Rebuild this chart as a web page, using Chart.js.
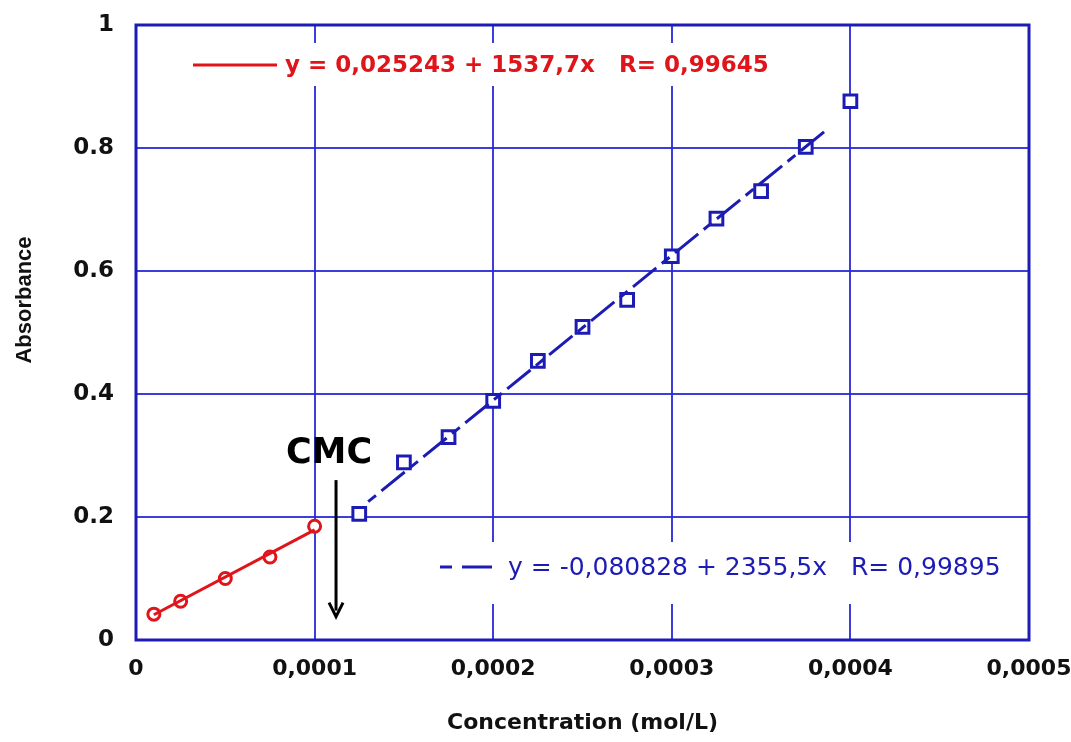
<!DOCTYPE html>
<html>
<head>
  <title>CMC Absorbance</title>
  <script src="https://cdn.jsdelivr.net/npm/chart.js"></script>
  <style>
    body { margin: 0; background: #fff; }
    #wrap { width: 1071px; height: 742px; }
  </style>
</head>
<body>
  <div id="wrap"><canvas id="cmcChart" width="1071" height="742"></canvas></div>
  <script>
    // measured points
    const redX = [0.00001, 0.000025, 0.00005, 0.000075, 0.0001];
    const redY = [0.042, 0.063, 0.100, 0.135, 0.185];
    const blueX = [0.000125, 0.00015, 0.000175, 0.0002, 0.000225, 0.00025, 0.000275, 0.0003, 0.000325, 0.00035, 0.000375, 0.0004];
    const blueY = [0.205, 0.289, 0.330, 0.389, 0.454, 0.509, 0.553, 0.624, 0.685, 0.730, 0.802, 0.876];

    // fit line ends
    const redFitX = [0.00001, 0.0001];
    const redFitY = [0.041, 0.179];
    const blueFitX = [0.00013, 0.000386];
    const blueFitY = [0.225, 0.828];

    const xTicks = ['0', '0,0001', '0,0002', '0,0003', '0,0004', '0,0005'];
    const yTicks = ['0', '0.2', '0.4', '0.6', '0.8', '1'];

    const redLabel = 'y = 0,025243 + 1537,7x   R= 0,99645';
    const blueLabel = 'y = -0,080828 + 2355,5x   R= 0,99895';
    const cmcX = [0.000112];
    const cmcArrowY = [0.26, 0.038];

    const RED = '#e0151b';
    const BLUE = '#1c1cb4';
    const GRID = 'rgba(40, 40, 215, 0.9)';

    function pts(xs, ys) {
      return xs.map((x, i) => ({ x: x, y: ys[i] }));
    }

    function noPad(s) {
      s.paddingLeft = 0;
      s.paddingRight = 0;
      s.paddingTop = 0;
      s.paddingBottom = 0;
    }

    const extras = {
      id: 'extras',
      afterDatasetsDraw(chart) {
        const ctx = chart.ctx;
        const xs = chart.scales.x;
        const ys = chart.scales.y;
        ctx.save();

        // legend 1 (red, solid)
        ctx.fillStyle = '#fff';
        ctx.fillRect(185, 43, 590, 43);
        ctx.strokeStyle = RED;
        ctx.lineWidth = 3;
        ctx.beginPath();
        ctx.moveTo(193, 65);
        ctx.lineTo(277, 65);
        ctx.stroke();
        ctx.fillStyle = RED;
        ctx.font = 'bold 23px "DejaVu Sans"';
        ctx.textBaseline = 'middle';
        ctx.textAlign = 'left';
        ctx.fillText(redLabel, 285, 66);

        // legend 2 (blue, dashed)
        ctx.fillStyle = '#fff';
        ctx.fillRect(432, 542, 578, 62);
        ctx.strokeStyle = BLUE;
        ctx.beginPath();
        ctx.moveTo(440, 567);
        ctx.lineTo(452, 567);
        ctx.moveTo(462, 567);
        ctx.lineTo(492, 567);
        ctx.stroke();
        ctx.fillStyle = BLUE;
        ctx.font = '25px "DejaVu Sans"';
        ctx.fillText(blueLabel, 508, 568);

        // CMC marker
        const ax = xs.getPixelForValue(cmcX[0]);
        const ay1 = ys.getPixelForValue(cmcArrowY[0]);
        const ay2 = ys.getPixelForValue(cmcArrowY[1]);
        ctx.fillStyle = '#000';
        ctx.font = 'bold 35px "DejaVu Sans"';
        ctx.textAlign = 'center';
        ctx.fillText('CMC', ax - 7, 454);
        ctx.strokeStyle = '#000';
        ctx.lineWidth = 3;
        ctx.beginPath();
        ctx.moveTo(ax, ay1);
        ctx.lineTo(ax, ay2 - 6);
        ctx.stroke();
        ctx.beginPath();
        ctx.moveTo(ax - 7, ay2 - 14);
        ctx.lineTo(ax, ay2);
        ctx.lineTo(ax + 7, ay2 - 14);
        ctx.stroke();

        // y axis title
        ctx.translate(25, 300);
        ctx.rotate(-Math.PI / 2);
        ctx.font = 'bold 22px "Liberation Sans"';
        ctx.fillStyle = '#111';
        ctx.fillText('Absorbance', 0, 0);
        ctx.restore();
      },
      afterDraw(chart) {
        const a = chart.chartArea;
        const ctx = chart.ctx;
        ctx.save();
        ctx.strokeStyle = BLUE;
        ctx.lineWidth = 3;
        ctx.strokeRect(a.left, a.top, a.right - a.left, a.bottom - a.top);
        ctx.restore();
      }
    };

    const ctx = document.getElementById('cmcChart').getContext('2d');
    new Chart(ctx, {
      type: 'scatter',
      data: {
        datasets: [
          {
            data: pts(redFitX, redFitY),
            showLine: true,
            borderColor: RED,
            borderWidth: 3,
            pointRadius: 0
          },
          {
            data: pts(blueFitX, blueFitY),
            showLine: true,
            borderColor: BLUE,
            borderWidth: 3,
            borderDash: [10, 7, 30, 7],
            pointRadius: 0
          },
          {
            data: pts(redX, redY),
            pointStyle: 'circle',
            pointRadius: 6,
            pointBorderWidth: 3,
            pointBorderColor: RED,
            pointBackgroundColor: '#fff'
          },
          {
            data: pts(blueX, blueY),
            pointStyle: 'rect',
            pointRadius: 9,
            pointBorderWidth: 3,
            pointBorderColor: BLUE,
            pointBackgroundColor: '#fff'
          }
        ]
      },
      options: {
        responsive: false,
        animation: false,
        layout: { padding: { top: 25, right: 42 } },
        plugins: {
          legend: { display: false },
          tooltip: { enabled: false }
        },
        scales: {
          x: {
            type: 'linear',
            min: 0,
            max: 0.0005,
            afterFit: s => { s.height = 102; noPad(s); },
            afterBuildTicks: s => {
              s.ticks = xTicks.map((t, i) => ({ value: i * 0.0001 }));
            },
            grid: { color: GRID, lineWidth: 2, drawTicks: false },
            border: { display: false },
            ticks: {
              padding: 16,
              color: '#111',
              font: { family: 'DejaVu Sans', size: 22, weight: 'bold' },
              callback: (v, i) => xTicks[i]
            },
            title: {
              display: true,
              text: 'Concentration (mol/L)',
              color: '#111',
              padding: { top: 0, bottom: 6 },
              font: { family: 'DejaVu Sans', size: 22, weight: 'bold' }
            }
          },
          y: {
            min: 0,
            max: 1,
            afterFit: s => { s.width = 136; noPad(s); },
            afterBuildTicks: s => {
              s.ticks = yTicks.map((t, i) => ({ value: i * 0.2 }));
            },
            grid: { color: GRID, lineWidth: 2, drawTicks: false },
            border: { display: false },
            ticks: {
              padding: 22,
              color: '#111',
              font: { family: 'DejaVu Sans', size: 23, weight: 'bold' },
              callback: (v, i) => yTicks[i]
            }
          }
        }
      },
      plugins: [extras]
    });
  </script>
</body>
</html>
